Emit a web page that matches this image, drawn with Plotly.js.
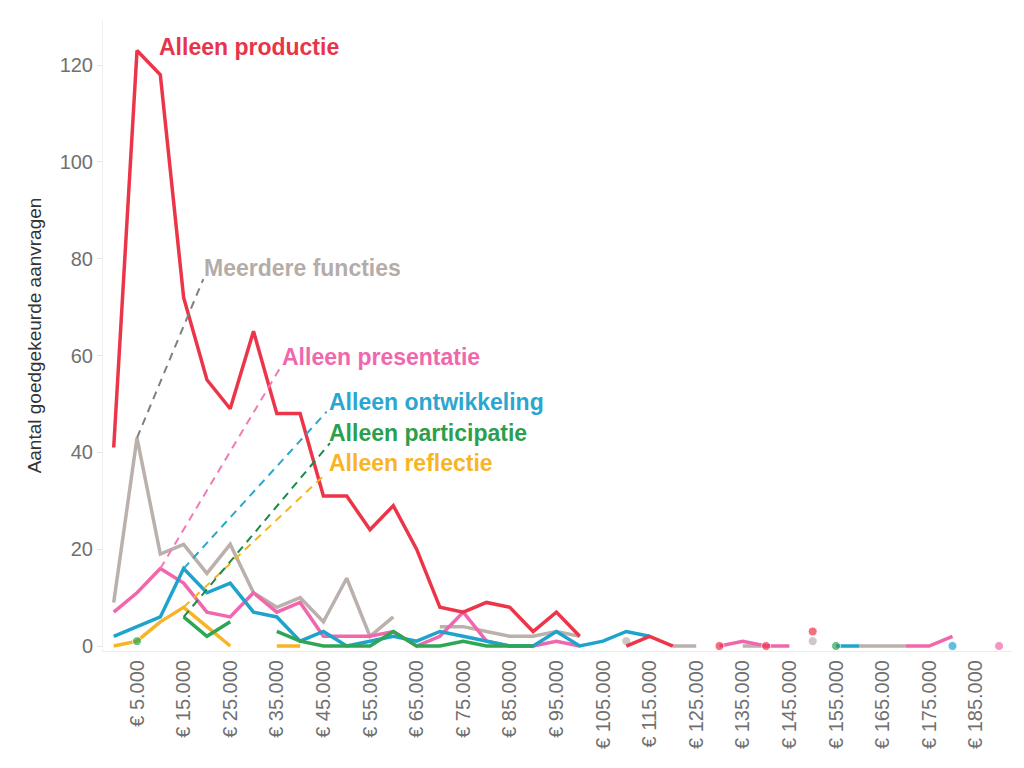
<!DOCTYPE html>
<html>
<head>
<meta charset="utf-8">
<script src="https://cdn.plot.ly/plotly-3.0.1.min.js"></script>
<style>
  html, body { margin: 0; padding: 0; background: #fff; }
  #chart { width: 1024px; height: 768px; }
</style>
</head>
<body>
<div id="chart"></div>
<script>
// aangevraagd bedrag, schijven van € 5.000
const bedragen = [0, 5000, 10000, 15000, 20000, 25000, 30000, 35000, 40000, 45000,
  50000, 55000, 60000, 65000, 70000, 75000, 80000, 85000, 90000, 95000,
  100000, 105000, 110000, 115000, 120000, 125000, 130000, 135000, 140000, 145000,
  150000, 155000, 160000, 165000, 170000, 175000, 180000, 185000, 190000];

const tickWaarden = [5000, 15000, 25000, 35000, 45000, 55000, 65000, 75000, 85000, 95000,
  105000, 115000, 125000, 135000, 145000, 155000, 165000, 175000, 185000];
const tickLabels = ["€ 5.000", "€ 15.000", "€ 25.000", "€ 35.000", "€ 45.000", "€ 55.000",
  "€ 65.000", "€ 75.000", "€ 85.000", "€ 95.000", "€ 105.000", "€ 115.000", "€ 125.000",
  "€ 135.000", "€ 145.000", "€ 155.000", "€ 165.000", "€ 175.000", "€ 185.000"];

// aantal goedgekeurde aanvragen per functie (null = geen aanvragen)
const productie = [41, 123, 118, 72, 55, 49, 65, 48, 48, 31, 31, 24, 29, 20, 8, 7, 9, 8, 3, 7,
  2, null, 0, 2, 0, null, 0, null, 0, null, 3, null, null, null, null, null, null, null, null];
const meerdere = [9, 43, 19, 21, 15, 21, 11, 8, 10, 5, 14, 2, 6, null, 4, 4, 3, 2, 2, 3,
  2, null, 1, null, 0, 0, null, 0, 0, null, 1, null, 0, 0, 0, null, null, null, null];
const presentatie = [7, 11, 16, 13, 7, 6, 11, 7, 9, 2, 2, 2, 3, 0, 2, 7, 1, 0, 0, 1,
  0, null, null, null, null, null, 0, 1, 0, 0, null, null, null, null, 0, 0, 2, null, 0];
const ontwikkeling = [2, 4, 6, 16, 11, 13, 7, 6, 1, 3, 0, 1, 2, 1, 3, 2, 1, 0, 0, 3,
  0, 1, 3, 2, null, null, null, null, null, null, null, 0, 0, null, null, null, 0, null, null];
const participatie = [null, 1, null, 6, 2, 5, null, 3, 1, 0, 0, 0, 3, 0, 0, 1, 0, 0, 0, null,
  null, null, null, null, null, null, null, null, null, null, null, 0, null, null, null, null, null, null, null];
const reflectie = [0, 1, 5, 8, 4, 0, null, 0, 0, null, null, null, null, null, null, null, null, null, null, null,
  null, null, null, null, null, null, null, null, null, null, null, null, null, null, null, null, null, null, null];

const reeksen = [
  { naam: "Meerdere functies", y: meerdere, kleur: "#bab0ac", streep: "#7f7f7f", tekst: "#b5aca8", lx: 19000, ly: 78.1, ex: 19230, ey: 75.8 },
  { naam: "Alleen reflectie", y: reflectie, kleur: "#f8b425", streep: "#f5b521", tekst: "#f8b425", lx: 45800, ly: 37.7, ex: 45200, ey: 35.3 },
  { naam: "Alleen presentatie", y: presentatie, kleur: "#f067ad", streep: "#f07ab6", tekst: "#f067ad", lx: 35670, ly: 59.6, ex: 35690, ey: 57.4 },
  { naam: "Alleen ontwikkeling", y: ontwikkeling, kleur: "#1ea4cc", streep: "#28a8cf", tekst: "#2ba6d0", lx: 45800, ly: 50.5, ex: 45700, ey: 48.4 },
  { naam: "Alleen participatie", y: participatie, kleur: "#2ea655", streep: "#1b8a45", tekst: "#2b9f4e", lx: 45800, ly: 43.9, ex: 46400, ey: 41.9 },
  { naam: "Alleen productie", y: productie, kleur: "#ec3549", streep: null, tekst: "#e8344a", lx: 9340, ly: 123.8 }
];

// losse punten (zonder buren) krijgen een stip
function stipGrootte(ys) {
  return ys.map((v, i) => {
    if (v === null) return 0;
    const links = i > 0 ? ys[i - 1] : null;
    const rechts = i < ys.length - 1 ? ys[i + 1] : null;
    return (links === null && rechts === null) ? 9 : 0;
  });
}

const traces = reeksen.map((r) => ({
  name: r.naam,
  x: bedragen,
  y: r.y,
  type: "scatter",
  mode: "lines+markers",
  connectgaps: false,
  line: { color: r.kleur, width: 3.5 },
  marker: { color: r.kleur, size: stipGrootte(r.y) },
  hoverinfo: "x+y+name"
}));

const shapes = [];
const annotations = [];
reeksen.forEach((r) => {
  if (r.streep) {
    // stippellijn van het hoogste punt naar het label
    const piek = Math.max(...r.y.filter((v) => v !== null));
    const idx = r.y.indexOf(piek);
    shapes.push({
      type: "line", xref: "x", yref: "y",
      x0: bedragen[idx], y0: piek, x1: r.ex, y1: r.ey,
      line: { color: r.streep, width: 2, dash: "8px,6px" },
      layer: "above"
    });
  }
  annotations.push({
    xref: "x", yref: "y", x: r.lx, y: r.ly,
    xanchor: "left", yanchor: "middle", showarrow: false,
    text: "<b>" + r.naam + "</b>",
    font: { family: "Liberation Sans, Arial, sans-serif", size: 23, color: r.tekst }
  });
});

const layout = {
  width: 1024,
  height: 768,
  margin: { l: 103, r: 12, t: 20, b: 117, pad: 0 },
  paper_bgcolor: "#ffffff",
  plot_bgcolor: "#ffffff",
  showlegend: false,
  font: { family: "Liberation Sans, Arial, sans-serif", color: "#666666" },
  xaxis: {
    range: [-2300, 192770],
    tickmode: "array",
    tickvals: tickWaarden,
    ticktext: tickLabels,
    tickangle: -90,
    tickfont: { size: 20, color: "#707070" },
    showgrid: false,
    zeroline: false,
    showline: true,
    linecolor: "#ececec",
    linewidth: 1,
    ticks: "",
    fixedrange: true
  },
  yaxis: {
    range: [-1.03, 129.3],
    tickmode: "array",
    tickvals: [0, 20, 40, 60, 80, 100, 120],
    tickfont: { size: 20, color: "#707070" },
    showgrid: false,
    zeroline: false,
    showline: true,
    linecolor: "#f0f0f0",
    ticks: "outside",
    ticklen: 5,
    tickcolor: "#e6e6e6",
    title: { text: "Aantal goedgekeurde aanvragen", font: { size: 19, color: "#333333" }, standoff: 12 },
    fixedrange: true
  },
  shapes: shapes,
  annotations: annotations
};

Plotly.newPlot("chart", traces, layout, { displayModeBar: false, staticPlot: true });
</script>
</body>
</html>
